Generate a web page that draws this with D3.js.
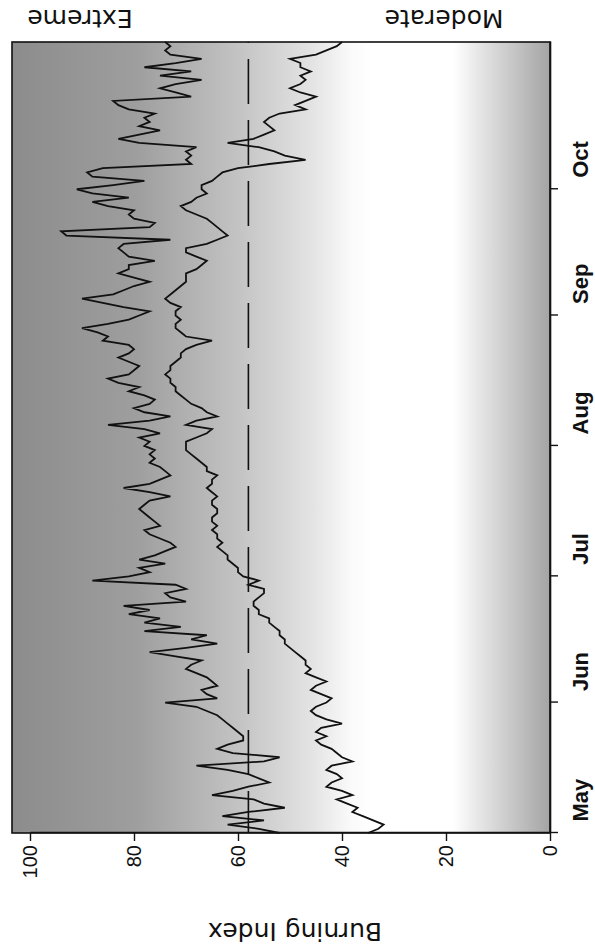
<!DOCTYPE html>
<html>
<head>
<meta charset="utf-8">
<script src="https://cdn.jsdelivr.net/npm/d3@7"></script>
<style>
body { margin: 0; background: #fff; }
svg { display: block; font-family: "Liberation Sans", Arial, sans-serif; }
</style>
</head>
<body>
<svg id="chart" width="595" height="945"></svg>
<script>
// daily burning index, starting May 1
var upper = [52,56,62,55,63,58,51,55,57,65, 61,58,54,56,58,62,68,55,52,61,
    64,62,59,59,60,61,62,63,64,66, 68,74,64,66,67,64,65,66,68,70,
    69,67,72,77,70,64,69,66,78,71, 78,75,81,77,82,70,73,74,70,72,
    88,81,77,79,74,79,76,74,72,73, 75,77,78,75,76,77,78,79,78,77,
    73,77,82,77,75,73,74,75,77,76, 77,76,78,77,79,75,78,85,77,73,
    78,80,77,76,78,81,79,83,85,81, 80,79,81,83,81,80,81,86,85,87,
    90,85,81,79,77,82,86,90,84,82, 80,77,80,83,81,81,76,81,82,83,
    82,73,93,94,77,76,80,81,80,85, 88,81,88,91,84,78,88,89,86,69,
    70,69,70,68,79,83,79,75,79,77, 78,76,81,83,84,69,72,75,72,67,
    75,69,78,72,67,73,74,73,74];
var lower = [35,33,32,34,36,38,37,39,41,38, 40,43,42,40,41,43,42,38,40,41,
    42,44,45,43,45,44,40,43,45,46, 45,43,42,44,46,45,43,45,47,46,
    47,47,48,49,50,51,51,52,52,53, 54,54,56,56,57,57,56,55,55,58,
    56,59,60,60,61,62,62,63,64,63, 64,64,65,64,65,65,64,64,65,65,
    64,65,66,65,65,64,66,66,67,68, 69,70,70,70,68,66,65,70,68,64,
    66,67,69,70,71,72,72,73,73,74, 73,73,72,71,71,70,68,65,70,71,
    72,72,71,72,72,71,73,74,73,72, 71,70,70,70,68,67,66,68,70,70,
    66,64,62,63,64,65,66,68,70,71, 69,68,66,67,67,65,64,63,60,54,
    47,51,53,56,62,57,55,53,54,55, 54,52,47,49,47,45,48,50,48,47,
    48,46,48,48,50,45,43,41,40];
var startDate = new Date(2000, 4, 1);
var monthTicks = ["May","Jun","Jul","Aug","Sep","Oct"];
var valueTicks = [0, 20, 40, 60, 80, 100];
var threshold = 58;
var zoneLabels = ["Extreme", "Moderate"];

// the chart is drawn upright, then turned a quarter turn to the left
var W = 791, H = 538;
var svg = d3.select("#chart");
var g = svg.append("g").attr("transform", "translate(12,833) rotate(-90)");

var x = d3.scaleTime()
    .domain([startDate, d3.timeDay.offset(startDate, 188)])
    .range([0, W]);
var y = d3.scaleLinear().domain([0, 100]).range([H, 18]);

var grad = svg.append("defs").append("linearGradient")
    .attr("id", "bg").attr("x1", 0).attr("y1", 0).attr("x2", 0).attr("y2", 1);
[[0, "#8c8c8c"], [0.23, "#9e9e9e"], [0.42, "#c3c3c3"], [0.56, "#e4e4e4"],
 [0.63, "#fafafa"], [0.67, "#ffffff"], [0.82, "#ffffff"], [0.9, "#d6d6d6"], [1, "#a4a4a4"]]
    .forEach(function(s) {
        grad.append("stop").attr("offset", s[0]).attr("stop-color", s[1]);
    });

g.append("rect").attr("width", W).attr("height", H).attr("fill", "url(#bg)");

g.append("line")
    .attr("x1", 0).attr("x2", W)
    .attr("y1", y(threshold)).attr("y2", y(threshold))
    .attr("stroke", "#111").attr("stroke-width", 1.6)
    .attr("stroke-dasharray", "45,16").attr("stroke-dashoffset", 3);

var line = d3.line()
    .x(function(d, i) { return x(d3.timeDay.offset(startDate, i)); })
    .y(function(d) { return y(d); });

[upper, lower].forEach(function(s) {
    g.append("path").datum(s)
        .attr("d", line)
        .attr("fill", "none")
        .attr("stroke", "#111")
        .attr("stroke-width", 1.8);
});

g.append("rect").attr("width", W).attr("height", H)
    .attr("fill", "none").attr("stroke", "#111").attr("stroke-width", 1.6);

var yAxis = g.append("g")
    .call(d3.axisLeft(y).tickValues(valueTicks).tickSize(8).tickSizeOuter(0).tickPadding(4));
yAxis.selectAll("text").attr("font-size", 20).attr("fill", "#111");

var monthDates = monthTicks.map(function(m, i) { return d3.timeMonth.offset(startDate, i); });
var xAxis = g.append("g")
    .attr("transform", "translate(0," + H + ")")
    .call(d3.axisBottom(x).tickValues(monthDates)
        .tickFormat(function(d, i) { return monthTicks[i]; })
        .tickSize(8).tickSizeOuter(0));
xAxis.selectAll("text")
    .attr("text-anchor", "start")
    .attr("x", 11).attr("y", 38).attr("dy", 0)
    .attr("font-size", 22).attr("font-weight", "bold").attr("fill", "#111");
g.selectAll(".domain").attr("stroke", "#111").attr("stroke-width", 1.6);
g.selectAll(".tick line").attr("stroke", "#111").attr("stroke-width", 1.4);

g.append("text")
    .attr("transform", "translate(-99,283) rotate(-90)")
    .attr("text-anchor", "middle").attr("dy", "0.35em")
    .attr("font-family", "DejaVu Sans").attr("font-size", 25).attr("fill", "#111")
    .text("Burning Index");

g.selectAll(".zone").data(zoneLabels).enter().append("text")
    .attr("class", "zone")
    .attr("transform", function(d, i) { return "translate(814," + (i ? 432 : 68) + ") rotate(-90)"; })
    .attr("text-anchor", "middle").attr("dy", "0.35em")
    .attr("font-family", "DejaVu Sans").attr("font-size", 25).attr("fill", "#111")
    .text(function(d) { return d; });
</script>
</body>
</html>
